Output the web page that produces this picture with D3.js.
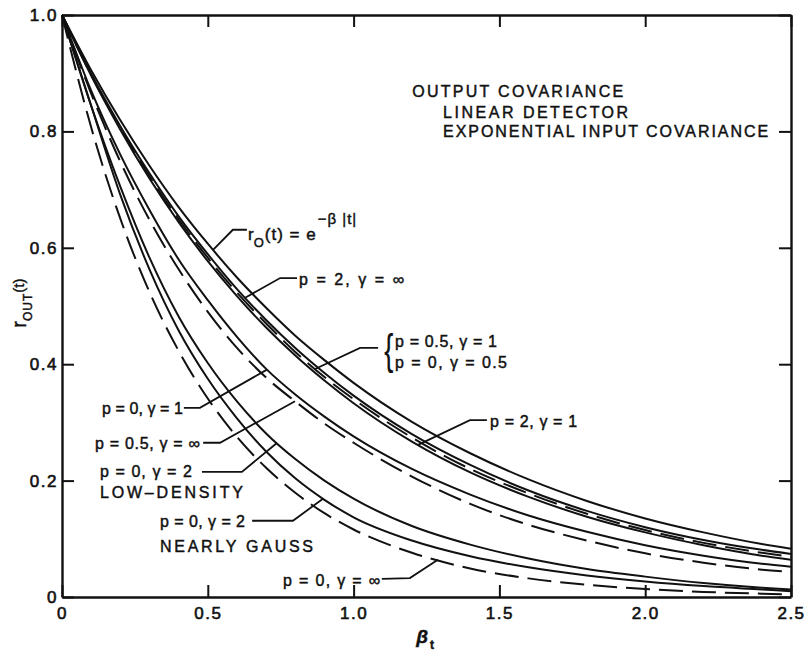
<!DOCTYPE html>
<html><head><meta charset="utf-8">
<script src="https://cdn.jsdelivr.net/npm/d3@7"></script>
<style>
body{margin:0;background:#fff}
svg{display:block}
text{font-family:"Liberation Sans",Arial,sans-serif;fill:#111;stroke:#111;stroke-width:0.45px}
</style>
</head><body>
<svg id="c" width="806" height="661"></svg>
<script>
// ---- data ----
const xs = [0,0.1,0.2,0.3,0.4,0.5,0.6,0.7,0.8,0.9,1.0,1.2,1.4,1.6,1.8,2.0,2.2,2.4,2.5];
const rExp      = [1,.905,.819,.741,.670,.607,.549,.497,.449,.407,.368,.301,.247,.202,.165,.135,.111,.091,.083];
const p2gInf    = [1,.899,.809,.728,.654,.589,.529,.476,.428,.385,.346,.280,.227,.183,.148,.120,.098,.081,.074];
const p05g1     = [1,.897,.806,.723,.649,.583,.523,.470,.421,.378,.340,.274,.220,.178,.143,.115,.093,.076,.069];
const p2g1      = [1,.896,.803,.719,.644,.577,.517,.463,.415,.372,.333,.267,.214,.172,.138,.111,.089,.071,.064];
const p0g1      = [1,.870,.760,.665,.580,.510,.447,.392,.348,.310,.276,.220,.176,.140,.112,.089,.071,.057,.052];
const p05gInf   = [1,.865,.748,.648,.563,.490,.428,.377,.336,.298,.265,.207,.160,.124,.097,.075,.059,.047,.043];
const p0g2Low   = [1,.844,.705,.583,.482,.402,.336,.281,.237,.200,.169,.122,.090,.066,.048,.035,.024,.016,.013];
const p0g2Gauss = [1,.844,.691,.563,.458,.375,.307,.250,.204,.167,.137,.097,.070,.051,.037,.0265,.0187,.0129,.010];
const p0gInf    = [1,.807,.650,.524,.423,.341,.275,.222,.179,.144,.116,.076,.049,.032,.021,.0136,.0088,.0057,.0045];

const xTickLabels = [0,0.5,1.0,1.5,2.0,2.5];
const yTickLabels = [0,0.2,0.4,0.6,0.8,1.0];
const titleLines = ["OUTPUT  COVARIANCE","LINEAR DETECTOR","EXPONENTIAL INPUT COVARIANCE"];

const series = [
  {values:rExp, dashed:false},
  {values:p2gInf, dashed:false},
  {values:p05g1, dashed:true},
  {values:p2g1, dashed:false},
  {values:p0g1, dashed:false},
  {values:p05gInf, dashed:true},
  {values:p0g2Low, dashed:false},
  {values:p0g2Gauss, dashed:false},
  {values:p0gInf, dashed:true}
];

// ---- layout ----
const svg = d3.select("#c");
const x = d3.scaleLinear().domain([0,2.5]).range([62,791]);
const y = d3.scaleLinear().domain([0,1]).range([597,15]);
const fmt = d => d===0 ? "0" : d3.format(".1f")(d);

function styleAxis(g){
  g.select(".domain").attr("stroke","#111").attr("stroke-width",2.4);
  g.selectAll(".tick line").attr("stroke","#111").attr("stroke-width",2);
  g.selectAll(".tick text").attr("font-size",17).attr("letter-spacing",1.5).attr("fill","#111")
    .style("font-family",'"Liberation Sans",Arial,sans-serif').style("stroke","#111").style("stroke-width","0.6px");
}
svg.append("g").attr("transform",`translate(0,${y(0)})`)
  .call(d3.axisBottom(x).tickValues(xTickLabels).tickFormat(fmt).tickSizeInner(-12).tickSizeOuter(0).tickPadding(10))
  .call(styleAxis);
svg.append("g").attr("transform",`translate(${x(0)},0)`)
  .call(d3.axisLeft(y).tickValues(yTickLabels).tickFormat(fmt).tickSizeInner(-12).tickSizeOuter(0).tickPadding(4))
  .call(styleAxis);
svg.append("g").attr("transform",`translate(0,${y(1)})`)
  .call(d3.axisTop(x).tickValues(xTickLabels).tickFormat("").tickSizeInner(-12).tickSizeOuter(0))
  .call(styleAxis);
svg.append("g").attr("transform",`translate(${x(2.5)},0)`)
  .call(d3.axisRight(y).tickValues(yTickLabels).tickFormat("").tickSizeInner(-12).tickSizeOuter(0))
  .call(styleAxis);

// ---- curves ----
const line = d3.line().x((d,i)=>x(xs[i])).y(d=>y(d)).curve(d3.curveMonotoneX);
svg.append("g").selectAll("path").data(series).join("path")
  .attr("d",d=>line(d.values)).attr("fill","none").attr("stroke","#111")
  .attr("stroke-width",2)
  .attr("stroke-dasharray",d=>d.dashed?"24,9":null);

// ---- annotations ----
function at(vals, tx){
  for(let i=1;i<xs.length;i++){
    if(tx<=xs[i]){const t=(tx-xs[i-1])/(xs[i]-xs[i-1]);return vals[i-1]+t*(vals[i]-vals[i-1]);}
  }
  return vals[vals.length-1];
}
const leaders = [
  {s:0, tx:0.518, pts:[[0.586,0.631],[0.634,0.631]]},
  {s:1, tx:0.628, pts:[[0.748,0.548],[0.806,0.548]]},
  {s:2, tx:0.868, pts:[[1.022,0.428],[1.084,0.428]]},
  {s:3, tx:1.221, pts:[[1.399,0.304],[1.457,0.304]]},
  {s:4, tx:0.703, pts:[[0.473,0.325],[0.418,0.325]]},
  {s:5, tx:0.799, pts:[[0.542,0.265],[0.484,0.265]]},
  {s:6, tx:0.737, pts:[[0.617,0.215],[0.480,0.215]]},
  {s:7, tx:0.895, pts:[[0.792,0.131],[0.652,0.131]]},
  {s:8, tx:1.289, pts:[[1.193,0.0326],[1.097,0.031]]}
];
const lp = d3.line().x(d=>x(d[0])).y(d=>y(d[1]));
svg.append("g").selectAll("path").data(leaders).join("path")
  .attr("d",d=>lp([[d.tx,at(series[d.s].values,d.tx)],...d.pts]))
  .attr("fill","none").attr("stroke","#111").attr("stroke-width",1.8);

const labels = [
  {t:"p = 2, γ = ∞", x:0.813, y:0.536, w:105},
  {t:"p = 0.5, γ = 1", x:1.142, y:0.430, w:102},
  {t:"p = 0, γ = 0.5", x:1.142, y:0.393, w:112},
  {t:"p = 2, γ = 1", x:1.468, y:0.292, w:87},
  {t:"p = 0, γ = 1", x:0.137, y:0.314, w:81},
  {t:"p = 0.5, γ = ∞", x:0.113, y:0.254, w:105},
  {t:"p = 0, γ = 2", x:0.130, y:0.206, w:92},
  {t:"LOW–DENSITY", x:0.130, y:0.170, w:143},
  {t:"p = 0, γ = 2", x:0.336, y:0.120, w:85},
  {t:"NEARLY GAUSS", x:0.336, y:0.077, w:153},
  {t:"p = 0, γ = ∞", x:0.758, y:0.019, w:97}
];
svg.append("g").selectAll("text").data(labels).join("text")
  .attr("x",d=>x(d.x)).attr("y",d=>y(d.y)).attr("font-size",16)
  .attr("textLength",d=>d.w).attr("lengthAdjust","spacing").text(d=>d.t);

// brace
svg.append("text").attr("transform",`translate(${x(1.105)},${y(0.4)}) scale(0.65,1)`)
  .attr("font-size",42).style("stroke-width","0.2px").text("{");

// r0(t) = e^{-β|t|}
const r0 = svg.append("text").attr("x",x(0.638)).attr("y",y(0.613)).attr("font-size",17);
r0.append("tspan").text("r");
r0.append("tspan").attr("dy",7).attr("font-size",13).text("O");
r0.append("tspan").attr("dy",-7).attr("dx",1).attr("letter-spacing",1).text("(t) = e");
r0.append("tspan").attr("dy",-16).attr("dx",1).attr("font-size",15).attr("letter-spacing",1).text("−β |t|");

// title
const titleX = [x(1.201), x(1.307), x(1.307)];
const titleY = [y(0.859), y(0.823), y(0.790)];
const titleW = [211,185,325];
svg.append("g").selectAll("text").data(titleLines).join("text")
  .attr("x",(d,i)=>titleX[i]).attr("y",(d,i)=>titleY[i]).attr("font-size",16)
  .attr("textLength",(d,i)=>titleW[i]).attr("lengthAdjust","spacing").text(d=>d);

// axis titles
const yl = svg.append("text").attr("transform",`translate(26,${y(0.505)}) rotate(-90)`)
  .attr("text-anchor","middle").attr("font-size",20);
yl.append("tspan").text("r");
yl.append("tspan").attr("dy",6).attr("font-size",12).attr("letter-spacing",1).text("OUT");
yl.append("tspan").attr("dy",-8).attr("font-size",15).text("(t)");

const xl = svg.append("text").attr("x",x(1.215)).attr("y",643).attr("font-size",19)
  .attr("font-weight","bold").attr("font-style","italic");
xl.append("tspan").text("β");
xl.append("tspan").attr("dy",6).attr("dx",2).attr("font-size",12).attr("font-style","normal").text("t");
</script>
</body></html>
